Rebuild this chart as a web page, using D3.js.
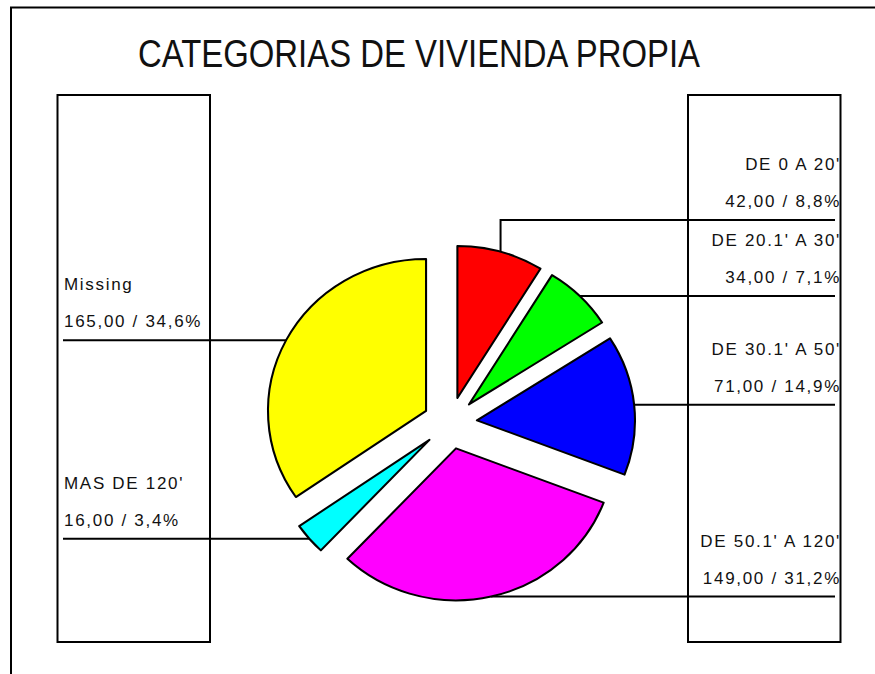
<!DOCTYPE html>
<html>
<head>
<meta charset="utf-8">
<script src="https://cdn.jsdelivr.net/npm/d3@7"></script>
<style>
  body { margin: 0; background: #fff; }
  text { font-family: "Liberation Sans", Arial, sans-serif; fill: #111; }
</style>
</head>
<body>
<div id="chart"></div>
<script>
// chart data
var title = "CATEGORIAS DE VIVIENDA PROPIA";
var categories = ["DE 0 A 20'", "DE 20.1' A 30'", "DE 30.1' A 50'", "DE 50.1' A 120'", "MAS DE 120'", "Missing"];
var values = [42, 34, 71, 149, 16, 165];
var colors = ["#ff0000", "#00ff00", "#0000ff", "#ff00ff", "#00ffff", "#ffff00"];

var width = 875, height = 674;
var cx = 450, cy = 423;
var radius = 152, explode = 26, xStretch = 1.04;
var total = d3.sum(values);

var svg = d3.select('#chart').append('svg')
    .attr('width', width)
    .attr('height', height);

// outer frame (runs off the page right and bottom)
svg.append('rect')
    .attr('x', 11).attr('y', 7.5)
    .attr('width', 900).attr('height', 700)
    .attr('fill', 'none').attr('stroke', '#000').attr('stroke-width', 2);

svg.append('text')
    .attr('x', 138).attr('y', 67)
    .attr('font-size', 39)
    .attr('textLength', 562)
    .attr('lengthAdjust', 'spacingAndGlyphs')
    .text(title);

// label boxes
[57.5, 688].forEach(function(x) {
  svg.append('rect')
      .attr('x', x).attr('y', 95)
      .attr('width', 152.5).attr('height', 547)
      .attr('fill', 'none').attr('stroke', '#000').attr('stroke-width', 2);
});

var pie = d3.pie().sort(null).value(function(d) { return d; });
var arcs = pie(values);
var arc = d3.arc().innerRadius(0).outerRadius(radius);

function fmt(n, k) { return n.toFixed(k).replace('.', ','); }

// leader line anchor points
var labels = arcs.map(function(a, i) {
  var mid = (a.startAngle + a.endAngle) / 2;
  var rr = radius + explode;
  return {
    i: i,
    right: mid < Math.PI,
    px: cx + xStretch * rr * Math.sin(mid),
    py: cy - rr * Math.cos(mid),
    text1: categories[i],
    text2: fmt(values[i], 2) + ' / ' + fmt(values[i] / total * 100, 1) + '%'
  };
});
labels.forEach(function(l) { l.ly = l.py; });

// keep labels on each side at least 76px apart (push upwards)
[true, false].forEach(function(side) {
  var s = labels.filter(function(l) { return l.right === side; })
      .sort(function(a, b) { return b.ly - a.ly; });
  for (var k = 1; k < s.length; k++) {
    s[k].ly = Math.min(s[k].ly, s[k - 1].ly - 76);
  }
});

var lines = svg.append('g').attr('stroke', '#000').attr('stroke-width', 2).attr('fill', 'none');
labels.forEach(function(l) {
  var pts = l.right
      ? [[l.px, l.py], [l.px, l.ly], [835, l.ly]]
      : [[l.px, l.py], [l.px, l.ly], [63, l.ly]];
  lines.append('path').attr('d', d3.line()(pts));

  var tx = l.right ? 841 : 64;
  var anchor = l.right ? 'end' : 'start';
  svg.append('text')
      .attr('x', tx).attr('y', l.ly - 50)
      .attr('text-anchor', anchor)
      .attr('font-size', 17)
      .attr('letter-spacing', 1.7)
      .text(l.text1);
  svg.append('text')
      .attr('x', tx).attr('y', l.ly - 13)
      .attr('text-anchor', anchor)
      .attr('font-size', 17)
      .attr('letter-spacing', 1.7)
      .text(l.text2);
});

// exploded pie
var pieG = svg.append('g')
    .attr('transform', 'translate(' + cx + ',' + cy + ') scale(' + xStretch + ',1)');

pieG.selectAll('path').data(arcs)
  .enter().append('path')
    .attr('d', arc)
    .attr('transform', function(d) {
      var mid = (d.startAngle + d.endAngle) / 2;
      return 'translate(' + (explode * Math.sin(mid)) + ',' + (-explode * Math.cos(mid)) + ')';
    })
    .style('fill', function(d, i) { return colors[i]; })
    .style('stroke', '#000')
    .style('stroke-width', 2)
    .style('stroke-linejoin', 'round');
</script>
</body>
</html>
